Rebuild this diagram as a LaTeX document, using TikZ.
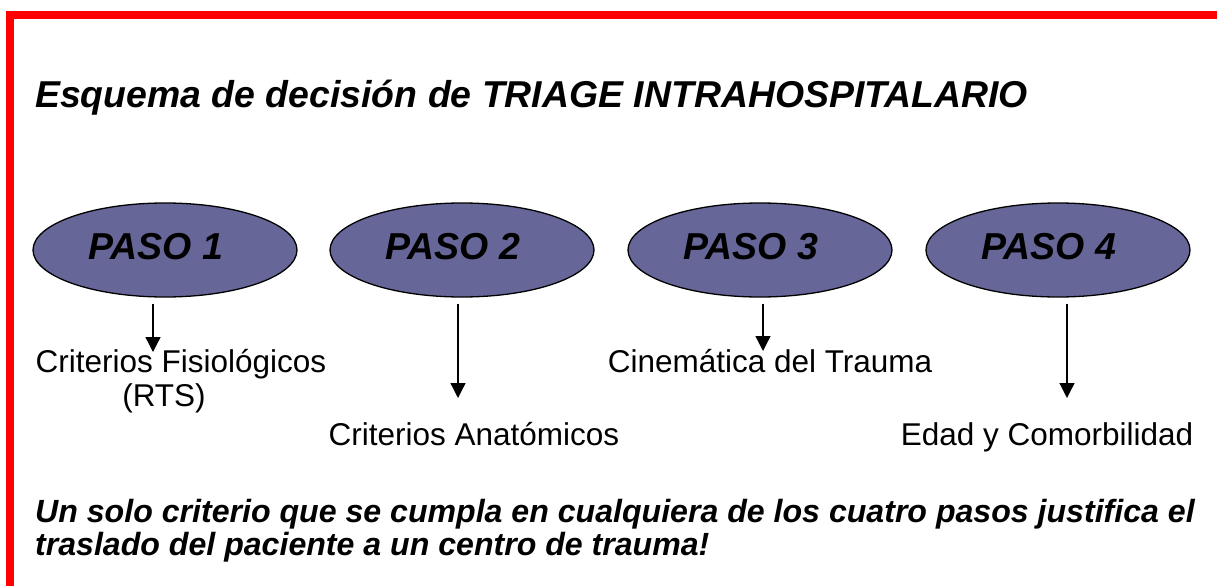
\documentclass[tikz,border=0pt]{standalone}
\usepackage{fontspec}
\setmainfont{Liberation Sans}
\usepackage{tikz}
\usetikzlibrary{shapes.geometric}
\usetikzlibrary{arrows.meta}
\definecolor{pasoblue}{RGB}{102,102,153}
\definecolor{borderred}{RGB}{255,0,0}

\begin{document}
\begin{tikzpicture}[
x=1pt, y=-1pt,
paso/.style={ellipse, draw=black, fill=pasoblue, line width=1.3pt, minimum width=264pt, minimum height=94pt, inner sep=0, text height=27pt, text depth=8pt, font=\fontsize{37.5}{42}\selectfont\bfseries\itshape},
crit/.style={inner sep=0, anchor=base, font=\fontsize{31.5}{36}\selectfont},
bigtext/.style={inner sep=0, anchor=base west},
arr/.style={-{Triangle[width=15pt,length=15pt]}, line width=1.3pt}
]
\useasboundingbox (0,0) rectangle (1217,586);
% Border
\draw[borderred, line width=8pt] (10,586) -- (10,15) -- (1217,15);
% Title
\node[bigtext, font=\fontsize{37.4}{44}\selectfont\bfseries\itshape] (title) at (35,107) {Esquema de decisión de TRIAGE INTRAHOSPITALARIO};
% Steps
\foreach \i/\x in {1/165,2/462,3/760,4/1058}{
    \node[paso] (p\i) at (\x,250) {PASO \i\hspace*{18pt}};
}
% Criteria
\node[crit] (fis) at (181,372) {Criterios Fisiológicos};
\node[crit] (rts) at (164,406) {(RTS)};
\node[crit] (ana) at (474,445) {Criterios Anatómicos};
\node[crit] (cin) at (770,372) {Cinemática del Trauma};
\node[crit] (eda) at (1047,445) {Edad y Comorbilidad};
\foreach \i/\x/\y in {1/153/352,2/458/398,3/763/351,4/1067/398}{
    \coordinate (tip\i) at (\x,\y);
    \draw[arr] (p\i.south -| tip\i) ++(0,6) -- (tip\i);
}
% Note
\node[bigtext, font=\fontsize{32.1}{36}\selectfont\bfseries\itshape] (note1) at (35,522) {Un solo criterio que se cumpla en cualquiera de los cuatro pasos justifica el};
\node[bigtext, font=\fontsize{32.1}{36}\selectfont\bfseries\itshape] (note2) at (35,555) {traslado del paciente a un centro de trauma!};
\end{tikzpicture}
\end{document}
